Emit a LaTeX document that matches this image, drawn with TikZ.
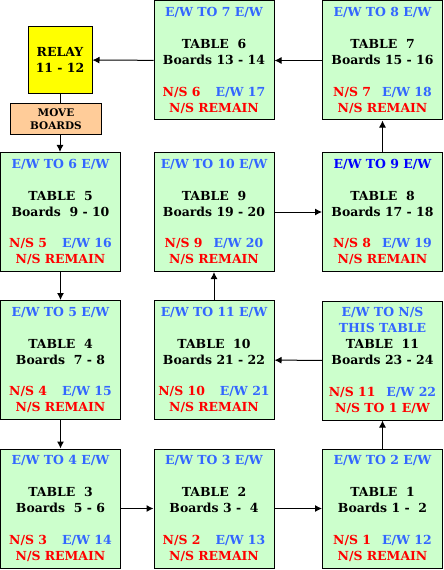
\documentclass[tikz,border=0pt]{standalone}
\usepackage{fontspec}
\setmainfont{DejaVu Serif}
\usetikzlibrary{arrows.meta}
\definecolor{boxgreen}{HTML}{CCFFCC}
\definecolor{relayyellow}{HTML}{FFFF00}
\definecolor{moveorange}{HTML}{FFCC99}
\definecolor{ewblue}{HTML}{3366FF}
\definecolor{darkblue}{HTML}{0000FF}
\definecolor{nsred}{HTML}{FF0000}
\newcommand{\ew}[1]{\textcolor{ewblue}{#1}}
\newcommand{\ns}[1]{\textcolor{nsred}{#1}}
\newcommand{\dsp}{\ \ }
\tikzset{
  tablebox/.style={draw=black, line width=1bp, fill=boxgreen, minimum width=120bp, minimum height=119bp,
    inner sep=0pt, align=center, font=\fontsize{12.5}{16}\selectfont\bfseries},
  relaybox/.style={draw=black, line width=1bp, fill=relayyellow, minimum width=64bp, minimum height=67bp,
    inner sep=0pt, align=center, font=\fontsize{12.5}{16}\selectfont\bfseries},
  movebox/.style={draw=black, line width=1bp, fill=moveorange, minimum width=90bp, minimum height=31bp,
    inner sep=0pt, align=center, font=\fontsize{10.5}{13}\selectfont\bfseries},
  conn/.style={line width=1bp, -{Latex[length=7bp,width=7bp]}},
  plain/.style={line width=1bp}
}
\begin{document}
\begin{tikzpicture}[x=1bp,y=-1bp]
\useasboundingbox (0,0) rectangle (444,570);
% row 1
\node[relaybox] (relay) at (60,60) {RELAY\\11 - 12};
\node[movebox] (move) at (56,119.5) {MOVE\\BOARDS};
\node[tablebox] (t6) at (214,60.5) {\ew{E/W TO 7 E/W}\\[16bp]TABLE\dsp 6\\Boards 13 - 14\\[16bp]\ns{N/S 6}\hspace{15bp}\ew{E/W 17}\\\ns{N/S REMAIN}};
\node[tablebox] (t7) at (382.5,60.5) {\ew{E/W TO 8 E/W}\\[16bp]TABLE\dsp 7\\Boards 15 - 16\\[16bp]\ns{N/S 7}\hspace{11bp}\ew{E/W 18}\\\ns{N/S REMAIN}};
% row 2
\node[tablebox] (t5) at (60.5,212) {\ew{E/W TO 6 E/W}\\[16bp]TABLE\dsp 5\\Boards\dsp 9 - 10\\[16bp]\ns{N/S 5}\hspace{15bp}\ew{E/W 16}\\\ns{N/S REMAIN}};
\node[tablebox] (t9) at (214,212) {\ew{E/W TO 10 E/W}\\[16bp]TABLE\dsp 9\\Boards 19 - 20\\[16bp]\ns{N/S 9}\hspace{11bp}\ew{E/W 20}\\\ns{N/S REMAIN}};
\node[tablebox] (t8) at (382.5,212) {\textcolor{darkblue}{E/W TO 9 E/W}\\[16bp]TABLE\dsp 8\\Boards 17 - 18\\[16bp]\ns{N/S 8}\hspace{11bp}\ew{E/W 19}\\\ns{N/S REMAIN}};
% row 3
\node[tablebox] (t4) at (60.5,360) {\ew{E/W TO 5 E/W}\\[16bp]TABLE\dsp 4\\Boards\dsp 7 - 8\\[16bp]\ns{N/S 4}\hspace{15bp}\ew{E/W 15}\\\ns{N/S REMAIN}};
\node[tablebox] (t10) at (214,360) {\ew{E/W TO 11 E/W}\\[16bp]TABLE\dsp 10\\Boards 21 - 22\\[16bp]\ns{N/S 10}\hspace{15bp}\ew{E/W 21}\\\ns{N/S REMAIN}};
\node[tablebox] (t11) at (382.5,360.5) {\ew{E/W TO N/S}\\\ew{THIS TABLE}\\TABLE\dsp 11\\Boards 23 - 24\\[16bp]\ns{N/S 11}\hspace{11bp}\ew{E/W 22}\\\ns{N/S TO 1 E/W}};
% row 4
\node[tablebox] (t3) at (60.5,508.5) {\ew{E/W TO 4 E/W}\\[16bp]TABLE\dsp 3\\Boards\dsp 5 - 6\\[16bp]\ns{N/S 3}\hspace{15bp}\ew{E/W 14}\\\ns{N/S REMAIN}};
\node[tablebox] (t2) at (214,508.5) {\ew{E/W TO 3 E/W}\\[16bp]TABLE\dsp 2\\Boards 3 -\dsp 4\\[16bp]\ns{N/S 2}\hspace{15bp}\ew{E/W 13}\\\ns{N/S REMAIN}};
\node[tablebox] (t1) at (382.5,508.5) {\ew{E/W TO 2 E/W}\\[16bp]TABLE\dsp 1\\Boards 1 -\dsp 2\\[16bp]\ns{N/S 1}\hspace{11bp}\ew{E/W 12}\\\ns{N/S REMAIN}};
% connectors
\draw[conn] (t3) -- (t2);
\draw[conn] (t2) -- (t1);
\draw[conn] (t1) -- (t11);
\draw[conn] (t11) -- (t10);
\draw[conn] (t10) -- (t9);
\draw[conn] (t9) -- (t8);
\draw[conn] (t8) -- (t7);
\draw[conn] (t7) -- (t6);
\draw[conn] (t6) -- (relay);
\draw[plain] (relay.south) -- (relay.south |- move.north);
\draw[conn] (move.south -| relay.south) -- (t5.north -| relay.south);
\draw[conn] (t5) -- (t4);
\draw[conn] (t4) -- (t3);
\end{tikzpicture}
\end{document}
